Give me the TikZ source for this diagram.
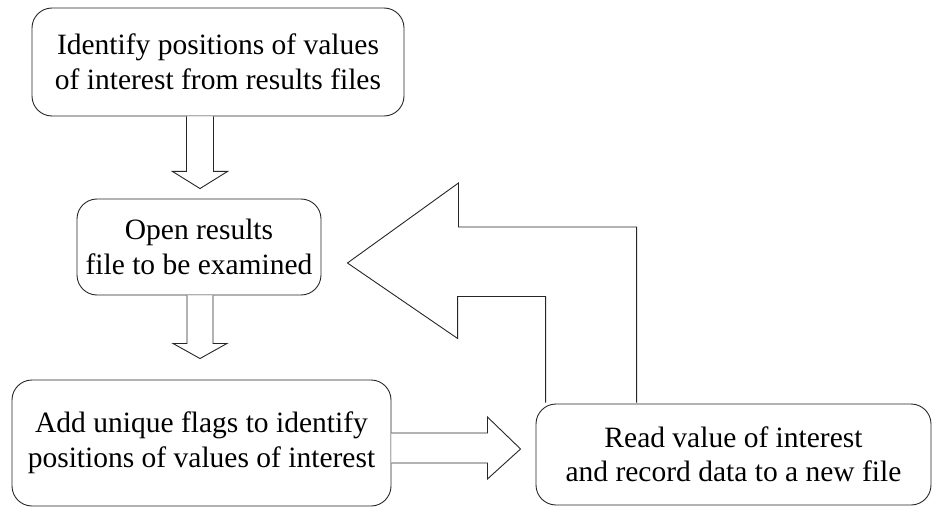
\documentclass[tikz,border=0pt]{standalone}
\usepackage{fontspec}
\setmainfont{Liberation Serif}
\usetikzlibrary{calc}
\begin{document}
\begin{tikzpicture}[x=1pt,y=-1pt,
  box/.style={draw=black!85,line width=0.9pt,rounded corners=20pt,align=center,
    font=\fontsize{29.5}{34.5}\selectfont,inner sep=0pt},
  blockarr/.style={draw=black!85,line width=0.9pt,fill=white,line join=miter}]
\useasboundingbox (0,0) rectangle (932,508);
\node[box,minimum width=372pt,minimum height=108pt] (top) at (218,62)
  {Identify positions of values\\of interest from results files};
\node[box,minimum width=244pt,minimum height=96pt] (mid) at (199,247)
  {Open results\\file to be examined};
\node[box,minimum width=379pt,minimum height=126pt] (bl) at (201.5,443)
  {Add unique flags to identify\\positions of values of interest};
\node[box,minimum width=395pt,minimum height=101pt] (br) at (733.5,454.5)
  {Read value of interest\\and record data to a new file};
% down arrow 1
\coordinate (d1) at (top.south -| mid.north);
\draw[blockarr] ($(d1)+(-12.5,0)$) -- ($(d1)+(-12.5,55)$) -- ($(d1)+(-26.5,55)$)
  -- ($(mid.north)+(1,-10)$) -- ($(d1)+(28.5,55)$) -- ($(d1)+(14.5,55)$) -- ($(d1)+(14.5,0)$);
% down arrow 2
\coordinate (d2) at (mid.south);
\draw[blockarr] ($(d2)+(-12,0)$) -- ($(d2)+(-12,48)$) -- ($(d2)+(-26,48)$)
  -- ($(bl.north -| d2)+(1,-21)$) -- ($(d2)+(28,48)$) -- ($(d2)+(14,48)$) -- ($(d2)+(14,0)$);
% right arrow
\coordinate (r1) at (bl.east);
\draw[blockarr] ($(r1)+(0,-10)$) -- ($(r1)+(96,-10)$) -- ($(r1)+(96,-26)$)
  -- ($(br.west |- r1)+(-15,6)$) -- ($(r1)+(96,36)$) -- ($(r1)+(96,20)$) -- ($(r1)+(0,20)$);
% L-shaped return arrow
\coordinate (u1) at ($(br.north west)+(10,-1)$);
\coordinate (u2) at ($(br.north west)+(101,-1)$);
\draw[blockarr] (u1) -- ($(u1 |- mid.south)+(0,1)$) -- ++(-88,0) -- ++(0,42)
  -- ($(mid.east)+(26,16)$) -- ($(mid.east)+(137,-64)$) -- ($(mid.east)+(137,-20)$)
  -- ($(u2 |- mid.east)+(0,-20)$) -- (u2);
\end{tikzpicture}
\end{document}
